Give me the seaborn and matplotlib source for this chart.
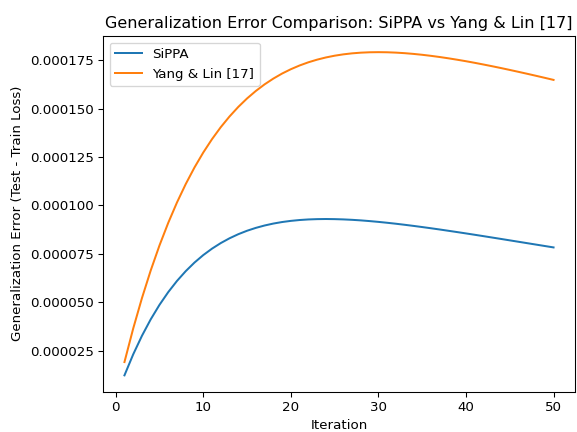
import numpy as np
import pandas as pd
import matplotlib
matplotlib.use("Agg")
import matplotlib.pyplot as plt
import seaborn as sns

iterations = list(range(1, 51))

# values in units of 1e-6
sippa_u = [12.25, 23.10, 32.70, 41.18, 48.66, 55.24, 61.02, 66.08, 70.51, 74.36,
           77.69, 80.57, 83.04, 85.15, 86.93, 88.41, 89.64, 90.64, 91.43, 92.03,
           92.47, 92.77, 92.93, 92.99, 92.93, 92.79, 92.57, 92.28, 91.92, 91.51,
           91.05, 90.55, 90.01, 89.44, 88.84, 88.22, 87.58, 86.91, 86.24, 85.55,
           84.85, 84.14, 83.42, 82.70, 81.97, 81.24, 80.51, 79.78, 79.05, 78.32]

yang_lin_u = [19.11, 36.45, 52.18, 66.44, 79.35, 91.02, 101.56, 111.07, 119.64, 127.34,
              134.25, 140.44, 145.96, 150.89, 155.26, 159.12, 162.53, 165.51, 168.12, 170.36,
              172.29, 173.93, 175.30, 176.43, 177.34, 178.04, 178.56, 178.91, 179.11, 179.17,
              179.11, 178.93, 178.65, 178.27, 177.81, 177.27, 176.66, 175.99, 175.26, 174.49,
              173.66, 172.79, 171.89, 170.96, 169.99, 169.00, 167.99, 166.96, 165.91, 164.84]

sippa = np.array(sippa_u) * 1e-6
yang_lin = np.array(yang_lin_u) * 1e-6

DPI = 96
fig = plt.figure(figsize=(577 / DPI, 432 / DPI), dpi=DPI)
ax = fig.add_axes([103/577, 1 - 391.5/432, (575 - 103)/577, (391.5 - 36)/432])

sns.lineplot(x=iterations, y=sippa, ax=ax, label="SiPPA", color="#1f77b4")
sns.lineplot(x=iterations, y=yang_lin, ax=ax, label="Yang & Lin [17]", color="#ff7f0e")

ax.set_title("Generalization Error Comparison: SiPPA vs Yang & Lin [17]")
ax.set_xlabel("Iteration")
ax.set_ylabel("Generalization Error (Test - Train Loss)")
ax.legend(loc="upper left")

fig.savefig("out.png", dpi=DPI)
